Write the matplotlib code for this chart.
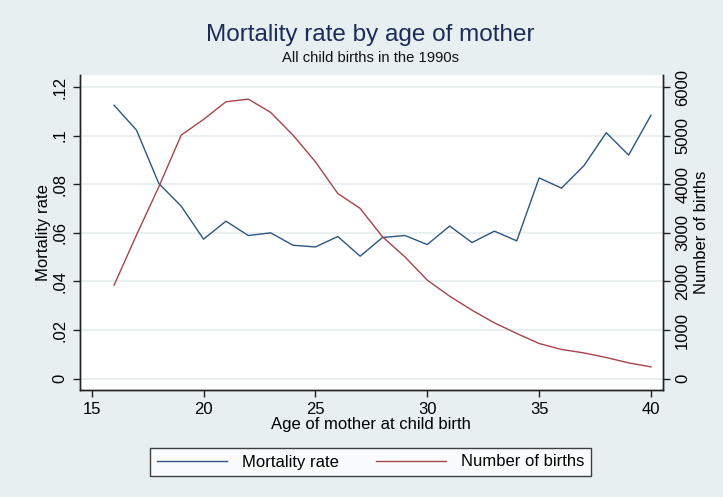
import matplotlib
matplotlib.use("Agg")
import matplotlib.pyplot as plt

plt.rcParams["font.family"] = ["Liberation Sans", "DejaVu Sans"]

ages = list(range(16, 41))
mortality = [0.1125, 0.1023, 0.0803, 0.0710, 0.0574, 0.0648, 0.0589, 0.0600,
             0.0549, 0.0542, 0.0585, 0.0504, 0.0581, 0.0589, 0.0552, 0.0628,
             0.0560, 0.0607, 0.0567, 0.0826, 0.0784, 0.0876, 0.1012, 0.0920,
             0.1084]
births = [1924, 2953, 3947, 5010, 5333, 5696, 5751, 5477, 5010, 4461, 3810,
          3502, 2918, 2506, 2027, 1697, 1409, 1148, 930, 724, 601, 531, 436,
          325, 243]

left_ticks = [0, 0.02, 0.04, 0.06, 0.08, 0.1, 0.12]
left_labels = ["0", ".02", ".04", ".06", ".08", ".1", ".12"]
right_ticks = [0, 1000, 2000, 3000, 4000, 5000, 6000]
x_ticks = [15, 20, 25, 30, 35, 40]

bg = "#e8eff1"
blue = "#2b5682"
red = "#a6444b"
fs = 12

W, H = 723, 497
fig = plt.figure(figsize=(W / 100, H / 100), dpi=100, facecolor=bg)
ax = fig.add_axes([79.5 / W, 1 - 390 / H, (662.7 - 79.5) / W, (390 - 75) / H])
ax.set_facecolor("white")
ax2 = ax.twinx()

l1, = ax.plot(ages, mortality, color=blue, lw=1.0, label="Mortality rate")
l2, = ax2.plot(ages, births, color=red, lw=1.0, label="Number of births")

ax.set_xlim(14.455, 40.523)
ax.set_ylim(-0.00465, 0.12494)
ax2.set_ylim(-232.5, 6247)

ax.set_xticks(x_ticks)
ax.set_yticks(left_ticks)
ax.set_yticklabels(left_labels)
ax2.set_yticks(right_ticks)
ax.grid(axis="y", color="#e6eeee", lw=1.2)
ax.set_axisbelow(True)

for a in (ax, ax2):
    a.spines["top"].set_visible(False)
    for s in ("left", "right", "bottom"):
        a.spines[s].set_color("#222222")
        a.spines[s].set_linewidth(1.0)
    a.tick_params(length=5, width=1.0, color="#222222", labelsize=fs)
ax.tick_params(axis="y", labelrotation=90)
ax2.tick_params(axis="y", labelrotation=90, pad=4)
for t in ax.get_yticklabels() + ax2.get_yticklabels():
    t.set_va("center")

ax.set_xlabel("Age of mother at child birth", fontsize=fs, labelpad=0)
ax.set_ylabel("Mortality rate", fontsize=fs, labelpad=1)
ax2.set_ylabel("Number of births", fontsize=fs, labelpad=3)

fig.text(0.512, 0.93, "Mortality rate by age of mother", ha="center",
         va="center", fontsize=17.5, color="#1c2c5a")
fig.text(0.512, 0.884, "All child births in the 1990s", ha="center",
         va="center", fontsize=10.6, color="#111111")

leg = fig.legend([l1, l2], ["Mortality rate", "Number of births"], loc="center",
                 bbox_to_anchor=(370.5 / W, 1 - 462 / H), ncol=2,
                 fontsize=fs, frameon=True, fancybox=False, handlelength=4.2,
                 handletextpad=0.9, columnspacing=2.2, borderpad=0.4,
                 borderaxespad=0)
leg.get_frame().set_edgecolor("#111111")
leg.get_frame().set_linewidth(1.0)
leg.get_frame().set_facecolor("white")

fig.savefig("out.png", dpi=100, facecolor=bg)
